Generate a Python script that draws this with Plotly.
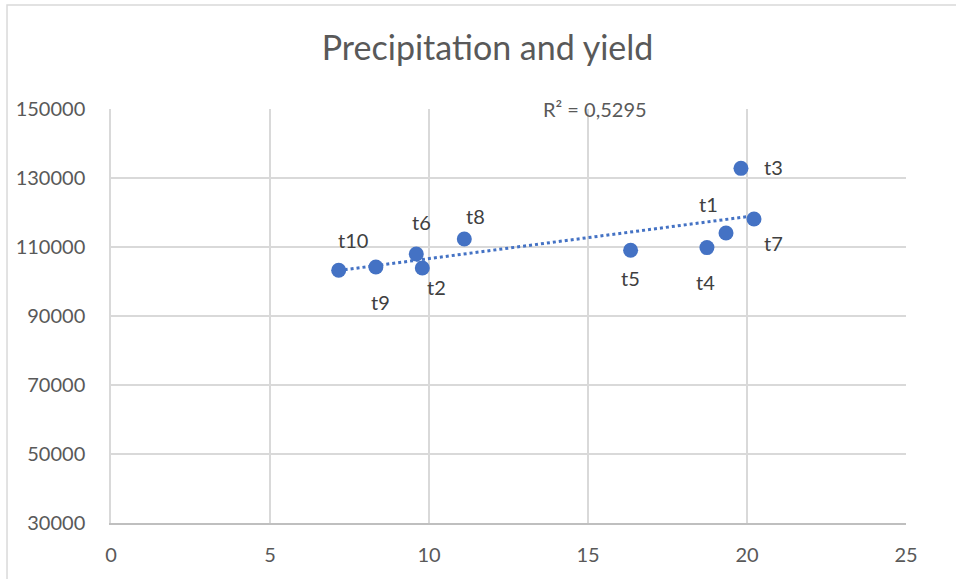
import numpy as np
import plotly.graph_objects as go

labels = ["t1", "t2", "t3", "t4", "t5", "t6", "t7", "t8", "t9", "t10"]
precip = [19.34, 9.79, 19.81, 18.74, 16.34, 9.60, 20.22, 11.11, 8.33, 7.16]
yield_ = [114060, 103910, 132800, 109830, 109040, 107970, 118120, 112320, 104200, 103250]
# label offsets from the point, in pixels (dx right, dy up)
label_dx = [-18, 14, 33, -1, 0, 5, 19, 11, 5, 14]
label_dy = [29, -19, 1, -34, -28, 32, -24, 23, -35, 30]
r2_text = "R² = 0,5295"

x = np.array(precip)
y = np.array(yield_)
slope, intercept = np.polyfit(x, y, 1)
xt = np.linspace(x.min(), x.max(), 50)
yt = slope * xt + intercept

font_family = "Lato, 'Open Sans', sans-serif"
grey = "#595959"

fig = go.Figure()
fig.add_trace(go.Scatter(
    x=xt, y=yt, mode="lines",
    line=dict(color="#4472C4", width=3, dash="dot"),
    hoverinfo="skip", showlegend=False))
fig.add_trace(go.Scatter(
    x=precip, y=yield_, mode="markers",
    marker=dict(size=15, color="#4472C4"),
    showlegend=False))

annotations = []
for lab, xv, yv, dx, dy in zip(labels, precip, yield_, label_dx, label_dy):
    annotations.append(dict(text=lab, x=xv, y=yv, xref="x", yref="y",
                            showarrow=False, xshift=dx, yshift=dy,
                            xanchor="center", yanchor="middle",
                            font=dict(size=20, color="#404040", family=font_family)))
annotations.append(dict(text=r2_text, x=(594 - 111) / 31.75, y=150000,
                        xref="x", yref="y", showarrow=False, yanchor="middle",
                        font=dict(size=20, color=grey, family=font_family)))

fig.update_layout(
    width=956, height=579,
    margin=dict(l=111, r=50, t=109, b=56),
    paper_bgcolor="white", plot_bgcolor="white",
    title=dict(text="Precipitation and yield", x=0.51, xanchor="center",
               y=0.917, yanchor="middle",
               font=dict(size=34, color=grey, family=font_family)),
    xaxis=dict(range=[0, 25], dtick=5, tick0=0, showgrid=True, gridcolor="#d9d9d9",
               gridwidth=1.5, zeroline=False, showline=True, linecolor="#bfbfbf",
               linewidth=1.5, ticks="", ticklabelstandoff=13, automargin=False,
               tickfont=dict(size=20, color=grey, family=font_family)),
    yaxis=dict(range=[30000, 150000], dtick=20000, tick0=30000, showgrid=True,
               gridcolor="#d9d9d9", gridwidth=1.5, zeroline=False, showline=True,
               linecolor="#d9d9d9", linewidth=1.5, ticks="", ticklabelstandoff=20,
               automargin=False,
               tickformat="d", tickfont=dict(size=20, color=grey, family=font_family)),
    annotations=annotations,
    shapes=[dict(type="rect", xref="paper", yref="paper",
                 x0=-0.1308, x1=1.2, y0=-0.3, y1=1.2512,
                 line=dict(color="#d9d9d9", width=1.5))],
)
fig.write_html("out.html")
